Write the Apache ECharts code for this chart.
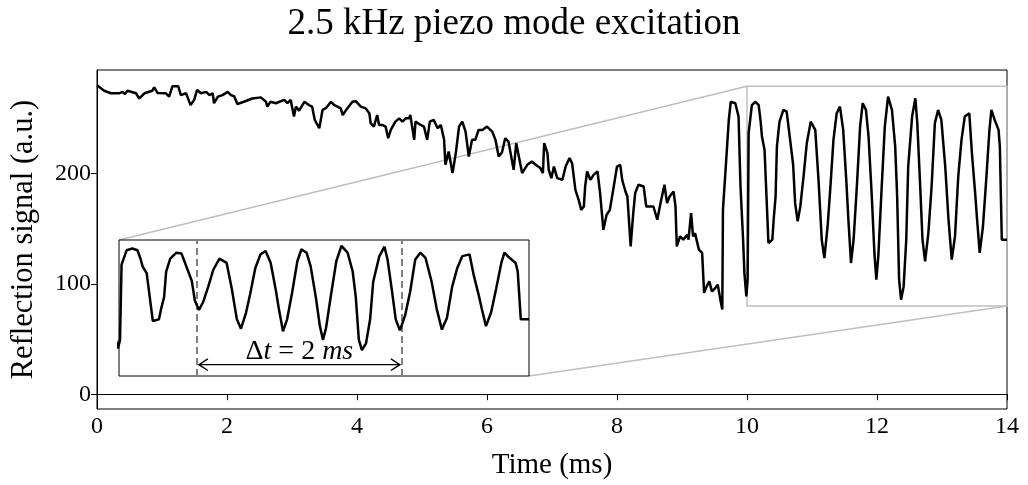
<!DOCTYPE html>
<html>
<head>
<meta charset="utf-8">
<script src="https://cdn.jsdelivr.net/npm/echarts@6/dist/echarts.min.js"></script>
<style>
html,body{margin:0;padding:0;background:#fff;}
#chart{width:1028px;height:485px;}
</style>
</head>
<body>
<div id="chart"></div>
<script>
// ---- data ----
const time = [0.00,0.11,0.215,0.34,0.39,0.43,0.47,0.60,0.65,0.73,0.85,0.88,0.93,1.06,1.11,1.16,1.25,1.29,1.37,1.44,1.495,1.54,1.60,1.68,1.73,1.78,1.80,1.86,1.93,2.01,2.06,2.11,2.16,2.26,2.39,2.52,2.60,2.62,2.67,2.75,2.88,2.93,2.98,3.03,3.06,3.11,3.19,3.26,3.31,3.35,3.42,3.47,3.52,3.60,3.65,3.70,3.75,3.78,3.85,3.93,3.98,4.06,4.135,4.19,4.21,4.26,4.31,4.34,4.39,4.44,4.48,4.52,4.59,4.65,4.70,4.75,4.80,4.82,4.88,4.90,4.98,5.03,5.08,5.12,5.18,5.24,5.29,5.34,5.36,5.41,5.47,5.52,5.57,5.62,5.67,5.72,5.77,5.82,5.87,5.93,6.00,6.08,6.13,6.18,6.23,6.28,6.33,6.41,6.45,6.49,6.54,6.62,6.69,6.75,6.82,6.86,6.88,6.93,6.95,6.99,7.03,7.08,7.16,7.21,7.27,7.31,7.36,7.41,7.45,7.49,7.51,7.54,7.59,7.64,7.70,7.74,7.79,7.84,7.89,7.95,8.00,8.05,8.08,8.13,8.16,8.21,8.25,8.28,8.33,8.41,8.45,8.51,8.56,8.62,8.67,8.73,8.77,8.81,8.87,8.90,8.92,8.97,9.02,9.08,9.10,9.14,9.17,9.20,9.26,9.31,9.34,9.38,9.42,9.46,9.51,9.55,9.59,9.62,9.63,9.67,9.72,9.75,9.82,9.87,9.90,9.94,9.96,9.99,10.01,10.025,10.075,10.13,10.18,10.21,10.23,10.27,10.30,10.33,10.39,10.41,10.44,10.46,10.50,10.56,10.61,10.66,10.71,10.74,10.78,10.82,10.87,10.92,10.98,11.05,11.10,11.15,11.19,11.24,11.28,11.33,11.38,11.43,11.48,11.53,11.56,11.60,11.64,11.69,11.74,11.78,11.83,11.87,11.92,11.96,11.99,12.02,12.07,12.12,12.17,12.23,12.28,12.31,12.34,12.37,12.41,12.45,12.48,12.54,12.59,12.62,12.66,12.70,12.74,12.79,12.84,12.89,12.94,12.99,13.05,13.10,13.15,13.20,13.25,13.30,13.35,13.42,13.46,13.51,13.54,13.58,13.63,13.68,13.73,13.76,13.81,13.87,13.89,13.92,14.00];
const signal = [280,275,272.7,272.7,274,272,275,272.7,268,272.7,275,278,273,272.7,269.7,279,279,271,272.7,262,266.7,275.7,272.7,274,271,272.7,263.7,269.7,271,274,271,270,263,265,268,269,265,260.6,265,263.7,266.7,263.7,266.7,251.6,260.6,257,265,262,260.6,248.6,241,257.6,259.2,265,262,260.6,259,253,259,265,265.5,260.6,259,254.6,245.6,242.5,253,244,244,242.5,232,239.5,247,250,247,250,250,253,230.5,247,244,242.5,230.5,247,248.6,241,244,230.5,207.9,220,200.4,218.5,242.5,247,238,215.4,230.5,230.5,239.5,239.5,242.5,238,230.5,215.4,219,232,229,203.3,227.5,215.4,200.4,207.9,210.9,207.9,204.9,200.4,227.5,218.5,203.3,195.8,206.3,195.8,194.3,206.3,214,209,185.2,176.2,167.1,170.1,188.2,201.8,194.3,198.8,201.8,182.3,149,162.6,167.1,188.2,206.3,207.9,194.3,183.7,179.2,134,164.2,182.3,189.8,188.2,170.1,170.1,170.1,158.1,173.2,189.8,173.2,179.2,183.7,170.1,134,143,140,144.5,140,164.2,143,146,131,128,91.8,97.7,102.3,93.2,96,99.3,85.7,76.7,167,203,248.6,265,263.7,251.6,188.2,140,110,88.7,103.8,236.6,262,265,262,247,233.5,221.4,179.2,137,140,158,179.2,224.4,247,257.6,256,232,207.9,173.2,156.6,170.1,197.3,227.5,247,239.5,194.3,140,123.4,152,185.2,230.5,254.6,260.6,239.5,191.3,158.1,118.9,140,188.2,242.5,263.7,257.6,233.5,179.2,128,103.8,124.9,185.2,242.5,269.7,257.6,224.4,179.2,103.8,85.7,97.7,140,206.3,251.6,268.2,245.6,194.3,140,120.4,146,188.2,245.6,257.6,248.6,206.3,158.1,121.9,143,197.3,230.5,251.6,254.6,218.5,182.3,158.1,128,152,194.3,239.5,257.6,248.6,239.5,224.4,140,140];

const titleText = '2.5 kHz piezo mode excitation';
const xName = 'Time (ms)';
const yName = 'Reflection signal (a.u.)';
const xTicks = [0, 2, 4, 6, 8, 10, 12, 14];
const yTicks = [0, 100, 200];
const mainX = [0, 14];
const mainY = [-13.4, 293.8];
const zoomT = [10, 14];        // zoom rectangle, time range
const zoomV = [80, 279];       // zoom rectangle, signal range
const insetV = [40, 280];      // inset signal range
const periodMarks = [10.76, 12.76];
const arrowLevel = 60;
const deltaParts = ['Δ', 't', ' = 2 ', 'ms'];

const FONT = 'Liberation Serif';
const points = time.map((t, i) => [t, signal[i]]);

const chart = echarts.init(document.getElementById('chart'), null, {renderer: 'canvas'});
const option = {
  animation: false,
  backgroundColor: '#fff',
  title: {
    text: titleText, left: 'center', top: 1,
    textStyle: {fontFamily: FONT, fontSize: 37, fontWeight: 'normal', color: '#000'}
  },
  grid: [
    {left: 96, right: 21, top: 70, bottom: 75.5, show: true, borderColor: '#000', borderWidth: 1, backgroundColor: 'transparent'},
    {left: 119, top: 240, width: 410, height: 136, show: true, borderColor: '#000', borderWidth: 1, backgroundColor: '#fff', z: 5}
  ],
  xAxis: [
    {type: 'value', gridIndex: 0, min: mainX[0], max: mainX[1], interval: 2,
     name: xName, nameLocation: 'middle', nameGap: 42,
     nameTextStyle: {fontFamily: FONT, fontSize: 29, color: '#000'},
     axisLine: {show: true, lineStyle: {color: '#000', width: 1}},
     axisTick: {show: true, length: 6, lineStyle: {color: '#000'}, customValues: xTicks},
     axisLabel: {fontFamily: FONT, fontSize: 24, color: '#000', margin: 6, customValues: xTicks},
     splitLine: {show: false}},
    {type: 'value', gridIndex: 1, min: zoomT[0], max: zoomT[1], show: false}
  ],
  yAxis: [
    {type: 'value', gridIndex: 0, min: mainY[0], max: mainY[1],
     name: yName, nameLocation: 'middle', nameGap: 58, nameRotate: 90,
     nameTextStyle: {fontFamily: FONT, fontSize: 30.5, color: '#000'},
     axisLine: {show: true, lineStyle: {color: '#000', width: 1}},
     axisTick: {show: true, length: 6, lineStyle: {color: '#000'}, customValues: yTicks},
     axisLabel: {fontFamily: FONT, fontSize: 24, color: '#000', margin: 6, customValues: yTicks},
     splitLine: {show: false}},
    {type: 'value', gridIndex: 1, min: insetV[0], max: insetV[1], show: false}
  ],
  series: [
    {type: 'line', xAxisIndex: 0, yAxisIndex: 0, data: points, showSymbol: false, clip: true,
     lineStyle: {color: '#000', width: 2.5}, z: 3},
    {type: 'line', xAxisIndex: 1, yAxisIndex: 1, data: points, showSymbol: false, clip: true,
     lineStyle: {color: '#000', width: 2.5}, z: 6,
     markLine: {silent: true, symbol: ['none', 'none'], label: {show: false},
       lineStyle: {color: '#808080', type: [7, 4], width: 2},
       data: periodMarks.map(v => ({xAxis: v}))}}
  ]
};
chart.setOption(option);

function px(g, p) { return chart.convertToPixel({gridIndex: g}, p); }
const rA = px(0, [zoomT[0], zoomV[1]]);
const rB = px(0, [zoomT[1], zoomV[0]]);
const iA = px(1, [zoomT[0], insetV[1]]);
const iB = px(1, [zoomT[1], insetV[0]]);
const a1 = px(1, [periodMarks[0], arrowLevel]);
const a2 = px(1, [periodMarks[1], arrowLevel]);
const gray = '#bfbfbf';
const head = 9;
chart.setOption({
  graphic: [
    {type: 'rect', z: 2, shape: {x: rA[0], y: rA[1], width: rB[0] - rA[0], height: rB[1] - rA[1]},
     style: {fill: 'none', stroke: gray, lineWidth: 1.5}},
    {type: 'line', z: 2, shape: {x1: rA[0], y1: rA[1], x2: iA[0], y2: iA[1]}, style: {stroke: gray, lineWidth: 1.5}},
    {type: 'line', z: 2, shape: {x1: rB[0], y1: rB[1], x2: iB[0], y2: iB[1]}, style: {stroke: gray, lineWidth: 1.5}},
    {type: 'line', z: 100, shape: {x1: a1[0] + 2, y1: a1[1], x2: a2[0] - 2, y2: a2[1]}, style: {stroke: '#000', lineWidth: 1.4}},
    {type: 'polyline', z: 100, shape: {points: [[a1[0] + 2 + head, a1[1] - head * 0.65], [a1[0] + 2, a1[1]], [a1[0] + 2 + head, a1[1] + head * 0.65]]}, style: {stroke: '#000', fill: 'none', lineWidth: 1.4}},
    {type: 'polyline', z: 100, shape: {points: [[a2[0] - 2 - head, a2[1] - head * 0.65], [a2[0] - 2, a2[1]], [a2[0] - 2 - head, a2[1] + head * 0.65]]}, style: {stroke: '#000', fill: 'none', lineWidth: 1.4}},
    {type: 'text', z: 100, x: (a1[0] + a2[0]) / 2, y: a1[1] + 1,
     style: {
       text: '{u|' + deltaParts[0] + '}{i|' + deltaParts[1] + '}{u|' + deltaParts[2] + '}{i|' + deltaParts[3] + '}',
       align: 'center', verticalAlign: 'bottom',
       rich: {
         u: {fontFamily: FONT, fontSize: 28, fill: '#000'},
         i: {fontFamily: FONT, fontSize: 28, fontStyle: 'italic', fill: '#000'}
       }
     }}
  ]
});
</script>
</body>
</html>
